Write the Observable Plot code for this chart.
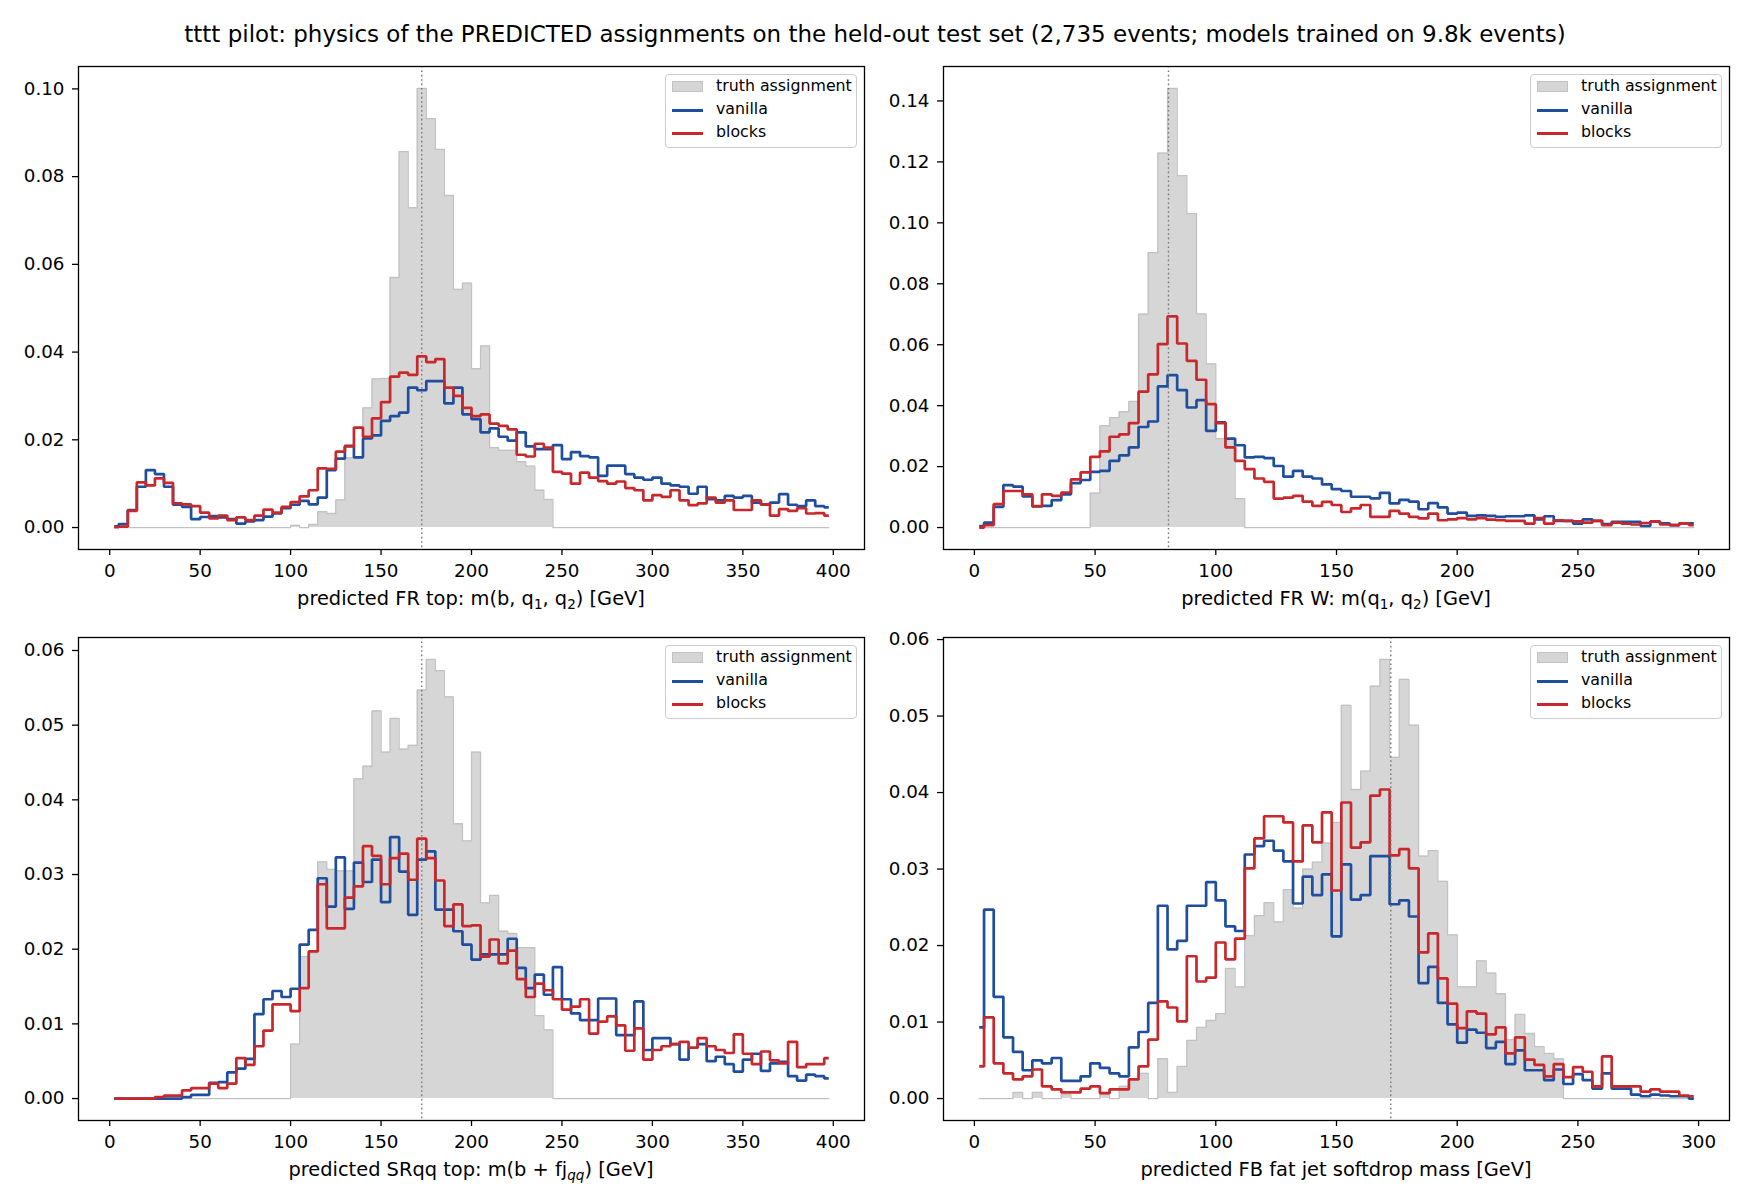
<!DOCTYPE html>
<html>
<head>
<meta charset="utf-8">
<script src="https://cdn.jsdelivr.net/npm/d3@7"></script>
<script src="https://cdn.jsdelivr.net/npm/@observablehq/plot@0.6"></script>
<style>
  html, body { margin: 0; padding: 0; background: #fff; }
  #fig { position: relative; width: 1750px; height: 1204px; background: #fff; overflow: hidden;
         font-family: "DejaVu Sans", sans-serif; color: #000; }
  .abs { position: absolute; }
  .title { left: 0; top: 20px; width: 1750px; text-align: center; font-size: 23px; line-height: 28px; white-space: nowrap; }
  .xlab { font-size: 19.4px; line-height: 24px; white-space: nowrap; transform: translate(-50%, -50%); }
  .xlab sub { font-size: 70%; vertical-align: -0.3em; line-height: 0; }
  .legend { width: 192px; height: 74px; box-sizing: border-box; border: 1px solid #cccccc; border-radius: 4px;
            background: rgba(255,255,255,0.8); font-size: 15.8px; }
  .legend .txt { position: absolute; left: 50px; line-height: 18px; white-space: nowrap; }
  .legend .patch { position: absolute; left: 6px; width: 31px; height: 11px; box-sizing: border-box;
                   background: #d6d6d6; border: 1px solid #c2c2c2; }
  .legend .ln { position: absolute; left: 6px; width: 31px; height: 3px; }
</style>
</head>
<body>
<div id="fig"></div>
<script>
// ---------------- data ----------------
const seriesNames = ["truth assignment", "vanilla", "blocks"];
const topMass = 172.5;
const wMass = 80.4;

// bins: panel A/C 0-400 GeV in 5 GeV bins, panel B/D 0-300 GeV in 4 GeV bins
const binsA = { start: 0, width: 5, n: 80 };
const binsB = { start: 0, width: 4, n: 75 };

const xTicks400 = [0, 50, 100, 150, 200, 250, 300, 350, 400];
const xTicks300 = [0, 50, 100, 150, 200, 250, 300];
const yTicksFRtop = [0.00, 0.02, 0.04, 0.06, 0.08, 0.10];
const yTicksFRW = [0.00, 0.02, 0.04, 0.06, 0.08, 0.10, 0.12, 0.14];
const yTicksSR = [0.00, 0.01, 0.02, 0.03, 0.04, 0.05, 0.06];
const yTicksFB = [0.00, 0.01, 0.02, 0.03, 0.04, 0.05, 0.06];

// Panel 1: predicted FR top m(b,q1,q2)
const frTopTruth = [
  0,0,0,0,0,0,0,0,0,0, 0,0,0,0,0,0,0,0,0,0,
  0.0005,0,0.0007,0.0036,0.0032,0.0063,0.0159,0.0159,0.0273,0.0339,
  0.0340,0.0570,0.0857,0.0729,0.1001,0.0932,0.0862,0.0757,0.0543,0.0557,
  0.0362,0.0414,0.0182,0.0176,0.0176,0.0150,0.0140,0.0085,0.0064,0,
  0,0,0,0,0,0,0,0,0,0, 0,0,0,0,0,0,0,0,0,0, 0,0,0,0,0,0,0,0,0,0];
const frTopVanilla = [
  0.0003,0.0008,0.0040,0.0093,0.0131,0.0122,0.0093,0.0052,0.0047,0.0019,
  0.0024,0.0026,0.0023,0.0019,0.0009,0.0014,0.0017,0.0025,0.0032,0.0044,
  0.0052,0.0061,0.0053,0.0068,0.0131,0.0157,0.0186,0.0160,0.0203,0.0210,
  0.0243,0.0254,0.0262,0.0319,0.0313,0.0334,0.0334,0.0283,0.0319,0.0258,
  0.0247,0.0217,0.0226,0.0207,0.0198,0.0217,0.0185,0.0179,0.0179,0.0188,
  0.0156,0.0172,0.0163,0.0160,0.0118,0.0141,0.0141,0.0122,0.0114,0.0109,
  0.0114,0.0100,0.0096,0.0093,0.0077,0.0093,0.0065,0.0062,0.0072,0.0068,
  0.0072,0.0057,0.0052,0.0057,0.0076,0.0052,0.0049,0.0062,0.0049,0.0046];
const frTopBlocks = [
  0.0001,0.0002,0.0038,0.0103,0.0096,0.0112,0.0102,0.0055,0.0053,0.0049,
  0.0034,0.0021,0.0027,0.0017,0.0023,0.0017,0.0027,0.0041,0.0034,0.0047,
  0.0058,0.0071,0.0085,0.0135,0.0134,0.0173,0.0185,0.0228,0.0207,0.0249,
  0.0286,0.0344,0.0353,0.0348,0.0390,0.0377,0.0384,0.0319,0.0300,0.0273,
  0.0254,0.0258,0.0237,0.0232,0.0224,0.0166,0.0162,0.0191,0.0182,0.0127,
  0.0123,0.0100,0.0125,0.0114,0.0106,0.0100,0.0105,0.0090,0.0085,0.0062,
  0.0074,0.0070,0.0085,0.0062,0.0051,0.0055,0.0068,0.0057,0.0062,0.0040,
  0.0040,0.0062,0.0053,0.0027,0.0042,0.0038,0.0044,0.0032,0.0033,0.0027];

// Panel 2: predicted FR W m(q1,q2)
const frWTruth = [
  0,0,0,0,0,0,0,0,0,0, 0,0,
  0.0113,0.0334,0.0361,0.0380,0.0414,0.0700,0.0902,0.1229,0.1441,0.1155,
  0.1030,0.0701,0.0537,0.0292,0.0292,0.0095,
  0,0,0,0,0,0,0,0,0,0, 0,0,0,0,0,0,0,0,0,0, 0,0,0,0,0,0,0,0,0,0,
  0,0,0,0,0,0,0,0,0,0, 0,0,0,0,0,0,0];
const frWVanilla = [
  0.0005,0.0016,0.0068,0.0139,0.0134,0.0102,0.0069,0.0071,0.0090,0.0109,
  0.0146,0.0156,0.0183,0.0186,0.0219,0.0237,0.0263,0.0330,0.0348,0.0463,
  0.0500,0.0451,0.0394,0.0418,0.0317,0.0345,0.0292,0.0270,0.0230,0.0232,
  0.0228,0.0202,0.0167,0.0186,0.0167,0.0161,0.0142,0.0126,0.0120,0.0101,
  0.0101,0.0096,0.0114,0.0079,0.0091,0.0085,0.0060,0.0080,0.0066,0.0046,
  0.0049,0.0038,0.0040,0.0038,0.0035,0.0037,0.0037,0.0040,0.0027,0.0037,
  0.0022,0.0022,0.0013,0.0027,0.0022,0.0011,0.0019,0.0019,0.0019,0.0005,
  0.0019,0.0014,0.0008,0.0014,0.0014];
const frWBlocks = [
  0.0000,0.0008,0.0077,0.0120,0.0120,0.0109,0.0070,0.0109,0.0104,0.0115,
  0.0158,0.0181,0.0232,0.0250,0.0298,0.0306,0.0343,0.0446,0.0503,0.0602,
  0.0693,0.0604,0.0547,0.0485,0.0405,0.0343,0.0263,0.0219,0.0192,0.0161,
  0.0150,0.0095,0.0098,0.0104,0.0085,0.0071,0.0084,0.0074,0.0051,0.0063,
  0.0074,0.0035,0.0035,0.0055,0.0046,0.0035,0.0030,0.0046,0.0024,0.0027,
  0.0031,0.0027,0.0031,0.0026,0.0024,0.0022,0.0022,0.0013,0.0031,0.0013,
  0.0024,0.0022,0.0020,0.0016,0.0022,0.0008,0.0016,0.0013,0.0010,0.0015,
  0.0020,0.0010,0.0008,0.0014,0.0008];

// Panel 3: predicted SRqq top m(b + fj_qq)
const srTruth = [
  0,0,0,0,0,0,0,0,0,0, 0,0,0,0,0,0,0,0,0,0,
  0.0073,0.0190,0.0195,0.0317,0.0307,0.0305,0.0305,0.0428,0.0445,0.0519,
  0.0464,0.0509,0.0468,0.0473,0.0547,0.0588,0.0573,0.0538,0.0368,0.0345,
  0.0464,0.0262,0.0272,0.0224,0.0221,0.0202,0.0202,0.0111,0.0092,0,
  0,0,0,0,0,0,0,0,0,0, 0,0,0,0,0,0,0,0,0,0, 0,0,0,0,0,0,0,0,0,0];
const srVanilla = [
  0,0,0,0,0,0,0,0,0.0002,0.0005,
  0.0005,0.0021,0.0022,0.0035,0.0040,0.0053,0.0113,0.0133,0.0144,0.0136,
  0.0147,0.0206,0.0226,0.0295,0.0257,0.0323,0.0254,0.0316,0.0290,0.0320,
  0.0263,0.0350,0.0304,0.0246,0.0320,0.0331,0.0253,0.0253,0.0224,0.0206,
  0.0186,0.0193,0.0193,0.0193,0.0214,0.0175,0.0148,0.0166,0.0139,0.0176,
  0.0133,0.0114,0.0105,0.0105,0.0134,0.0134,0.0085,0.0085,0.0130,0.0065,
  0.0081,0.0081,0.0073,0.0052,0.0068,0.0073,0.0050,0.0056,0.0046,0.0036,
  0.0052,0.0060,0.0037,0.0047,0.0049,0.0030,0.0024,0.0032,0.0030,0.0027];
const srBlocks = [
  0,0,0,0,0,0.0002,0.0004,0.0004,0.0011,0.0014,
  0.0014,0.0020,0.0014,0.0020,0.0054,0.0045,0.0070,0.0091,0.0126,0.0126,
  0.0117,0.0148,0.0197,0.0287,0.0228,0.0228,0.0269,0.0284,0.0338,0.0325,
  0.0287,0.0322,0.0328,0.0293,0.0348,0.0322,0.0292,0.0231,0.0260,0.0231,
  0.0232,0.0190,0.0213,0.0181,0.0198,0.0160,0.0136,0.0154,0.0145,0.0133,
  0.0119,0.0123,0.0133,0.0087,0.0103,0.0110,0.0098,0.0064,0.0094,0.0052,
  0.0065,0.0070,0.0073,0.0076,0.0068,0.0081,0.0070,0.0065,0.0061,0.0086,
  0.0060,0.0046,0.0063,0.0051,0.0047,0.0076,0.0042,0.0046,0.0046,0.0054];

// Panel 4: predicted FB fat jet softdrop mass
const fbTruth = [
  0,0,0,0,0.0008,0,0.0008,0,0,0.0005,
  0,0,0,0.0005,0,0.0016,0.0025,0.0033,0,0.0052,
  0.0008,0.0042,0.0076,0.0093,0.0102,0.0111,0.0170,0.0146,0.0213,0.0239,
  0.0256,0.0231,0.0273,0.0249,0.0300,0.0309,0.0334,0.0361,0.0514,0.0404,
  0.0428,0.0539,0.0574,0.0446,0.0548,0.0488,0.0317,0.0324,0.0284,0.0214,
  0.0146,0.0146,0.0180,0.0164,0.0137,0.0077,0.0110,0.0085,0.0068,0.0059,
  0.0052,0,0,0,0,0,0,0,0,0, 0,0,0,0,0];
const fbVanilla = [
  0.0093,0.0247,0.0133,0.0080,0.0061,0.0037,0.0050,0.0046,0.0053,0.0023,
  0.0023,0.0029,0.0046,0.0040,0.0033,0.0029,0.0067,0.0087,0.0125,0.0252,
  0.0195,0.0206,0.0252,0.0252,0.0283,0.0259,0.0225,0.0219,0.0319,0.0330,
  0.0337,0.0324,0.0310,0.0255,0.0290,0.0266,0.0293,0.0212,0.0306,0.0260,
  0.0266,0.0317,0.0317,0.0254,0.0259,0.0238,0.0151,0.0172,0.0125,0.0097,
  0.0073,0.0090,0.0086,0.0066,0.0074,0.0045,0.0063,0.0037,0.0037,0.0024,
  0.0038,0.0019,0.0032,0.0024,0.0013,0.0033,0.0013,0.0013,0.0005,0.0003,
  0.0005,0.0004,0.0003,0.0003,0.0000];
const fbBlocks = [
  0.0042,0.0106,0.0046,0.0033,0.0025,0.0029,0.0038,0.0016,0.0012,0.0008,
  0.0008,0.0013,0.0016,0.0007,0.0012,0.0012,0.0025,0.0042,0.0077,0.0127,
  0.0119,0.0101,0.0186,0.0153,0.0158,0.0204,0.0182,0.0209,0.0301,0.0340,
  0.0369,0.0369,0.0361,0.0310,0.0357,0.0335,0.0374,0.0272,0.0387,0.0328,
  0.0335,0.0396,0.0404,0.0318,0.0326,0.0301,0.0191,0.0216,0.0157,0.0124,
  0.0092,0.0114,0.0111,0.0084,0.0093,0.0059,0.0080,0.0051,0.0044,0.0029,
  0.0045,0.0028,0.0041,0.0035,0.0016,0.0055,0.0016,0.0016,0.0016,0.0009,
  0.0012,0.0009,0.0009,0.0004,0.0003];

const titleText = "tttt pilot: physics of the PREDICTED assignments on the held-out test set (2,735 events; models trained on 9.8k events)";

// ---------------- drawing ----------------
const BLUE = "#1f4e9e";
const RED = "#c8282b";
const GRAY_FILL = "#d6d6d6";
const GRAY_EDGE = "#c2c2c2";

const centersOf = b => d3.range(b.n).map(i => b.start + (i + 0.5) * b.width);

const panels = [
  { left: 0,   top: 0,   mL: 78, mT: 66, mR: 11, mB: 53, bins: binsA, truth: frTopTruth, van: frTopVanilla, blk: frTopBlocks,
    xticks: xTicks400, yticks: yTicksFRtop, ref: topMass,
    xlabel: "predicted FR top: m(b, q<sub>1</sub>, q<sub>2</sub>) [GeV]" },
  { left: 875, top: 0,   mL: 68, mT: 66, mR: 21, mB: 53, bins: binsB, truth: frWTruth, van: frWVanilla, blk: frWBlocks,
    xticks: xTicks300, yticks: yTicksFRW, ref: wMass,
    xlabel: "predicted FR W: m(q<sub>1</sub>, q<sub>2</sub>) [GeV]" },
  { left: 0,   top: 602, mL: 78, mT: 35, mR: 11, mB: 84, bins: binsA, truth: srTruth, van: srVanilla, blk: srBlocks,
    xticks: xTicks400, yticks: yTicksSR, ref: topMass,
    xlabel: "predicted SRqq top: m(b + fj<sub><i>qq</i></sub>) [GeV]" },
  { left: 875, top: 602, mL: 68, mT: 35, mR: 21, mB: 84, bins: binsB, truth: fbTruth, van: fbVanilla, blk: fbBlocks,
    xticks: xTicks300, yticks: yTicksFB, ref: topMass,
    xlabel: "predicted FB fat jet softdrop mass [GeV]" }
];

const fig = document.getElementById("fig");
const W = 875, H = 602;

const t = document.createElement("div");
t.className = "abs title";
t.textContent = titleText;
fig.appendChild(t);

for (const p of panels) {
  const xs = centersOf(p.bins);
  const data = xs.map((x, i) => ({ x, t: p.truth[i], v: p.van[i], b: p.blk[i] }));
  const span = xs[xs.length - 1] - xs[0];
  const xdom = [xs[0] - 0.05 * span, xs[xs.length - 1] + 0.05 * span];
  const ymax = d3.max([...p.truth, ...p.van, ...p.blk]);
  const ydom = [-0.05 * ymax, 1.05 * ymax];

  const svg = Plot.plot({
    width: W, height: H,
    marginLeft: p.mL, marginTop: p.mT, marginRight: p.mR, marginBottom: p.mB,
    style: { fontFamily: "DejaVu Sans, sans-serif", fontSize: "18.3px", color: "#000", background: "transparent" },
    x: { domain: xdom },
    y: { domain: ydom },
    marks: [
      Plot.areaY(data, { x: "x", y: "t", curve: "step", fill: GRAY_FILL }),
      Plot.lineY(data, { x: "x", y: "t", curve: "step", stroke: GRAY_EDGE, strokeWidth: 1.3 }),
      Plot.lineY(data, { x: "x", y: "v", curve: "step", stroke: BLUE, strokeWidth: 2.7, strokeLinejoin: "miter", strokeLinecap: "butt" }),
      Plot.lineY(data, { x: "x", y: "b", curve: "step", stroke: RED, strokeWidth: 2.7, strokeLinejoin: "miter", strokeLinecap: "butt" }),
      Plot.ruleX([p.ref], { stroke: "#777", strokeWidth: 1.4, strokeDasharray: "1.6,2.8" }),
      Plot.frame({ stroke: "#000", strokeWidth: 1.3 }),
      Plot.axisX({ ticks: p.xticks, tickSize: 6, tickPadding: 8, tickFormat: d => String(d), label: null, strokeWidth: 1.3 }),
      Plot.axisY({ ticks: p.yticks, tickSize: 6, tickPadding: 8, tickFormat: d3.format(".2f"), label: null, strokeWidth: 1.3 })
    ]
  });
  svg.classList.add("abs");
  svg.style.left = p.left + "px";
  svg.style.top = p.top + "px";
  fig.appendChild(svg);

  // x-axis title
  const frameL = p.left + p.mL, frameR = p.left + W - p.mR, frameB = p.top + H - p.mB, frameT = p.top + p.mT;
  const xl = document.createElement("div");
  xl.className = "abs xlab";
  xl.style.left = ((frameL + frameR) / 2) + "px";
  xl.style.top = (frameB + 50) + "px";
  xl.innerHTML = p.xlabel;
  fig.appendChild(xl);

  // legend (upper right)
  const lg = document.createElement("div");
  lg.className = "abs legend";
  lg.style.left = (frameR - 7 - 192) + "px";
  lg.style.top = (frameT + 8) + "px";
  const rowsY = [12, 35, 58];
  lg.innerHTML =
    `<div class="patch" style="top:${rowsY[0] - 6}px"></div>` +
    `<div class="txt" style="top:${rowsY[0] - 10}px">${seriesNames[0]}</div>` +
    `<div class="ln" style="top:${rowsY[1] - 1}px;background:${BLUE}"></div>` +
    `<div class="txt" style="top:${rowsY[1] - 10}px">${seriesNames[1]}</div>` +
    `<div class="ln" style="top:${rowsY[2] - 1}px;background:${RED}"></div>` +
    `<div class="txt" style="top:${rowsY[2] - 10}px">${seriesNames[2]}</div>`;
  fig.appendChild(lg);
}
</script>
</body>
</html>
